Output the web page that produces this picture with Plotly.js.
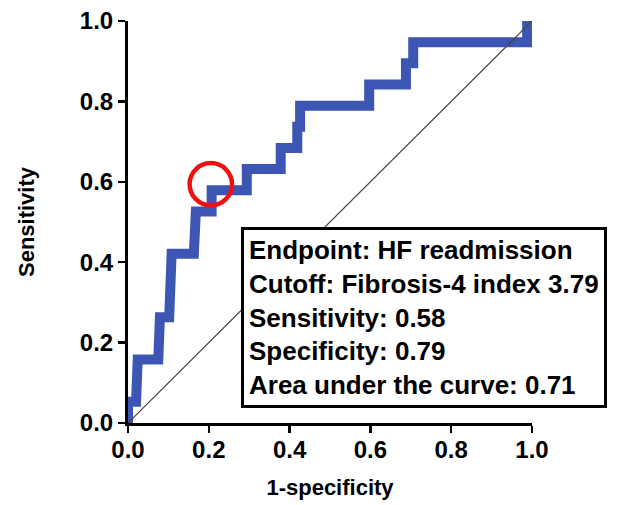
<!DOCTYPE html>
<html>
<head>
<meta charset="utf-8">
<script src="https://cdn.plot.ly/plotly-3.0.1.min.js"></script>
<style>html,body{margin:0;padding:0;background:#fff;}#chart{width:624px;height:505px;}</style>
</head>
<body>
<div id="chart"></div>
<script>
// ROC curve vertices (1-specificity, sensitivity)
const fpr = [0, 0, 0.02, 0.02, 0.024, 0.024, 0.075, 0.075, 0.079, 0.079, 0.102, 0.102, 0.108, 0.108,
  0.163, 0.163, 0.168, 0.168, 0.207, 0.207, 0.294, 0.294, 0.378, 0.378, 0.419, 0.419, 0.426, 0.426,
  0.597, 0.597, 0.688, 0.688, 0.706, 0.706, 0.988, 0.988];
const tpr = [0, 0.053, 0.053, 0.105, 0.105, 0.158, 0.158, 0.211, 0.211, 0.263, 0.263, 0.368, 0.368, 0.421,
  0.421, 0.474, 0.474, 0.526, 0.526, 0.579, 0.579, 0.632, 0.632, 0.684, 0.684, 0.737, 0.737, 0.789,
  0.789, 0.842, 0.842, 0.895, 0.895, 0.947, 0.947, 1.0];
// Reference (chance) line
const refX = [0, 1];
const refY = [0, 1];
// Cutoff point (circled)
const cutoffX = 0.205;
const cutoffY = 0.594;
// Axis ticks
const tickVals = [0, 0.2, 0.4, 0.6, 0.8, 1.0];
const tickText = ["0.0", "0.2", "0.4", "0.6", "0.8", "1.0"];
// Text box lines
const boxLines = [
  "Endpoint: HF readmission",
  "Cutoff: Fibrosis-4 index 3.79",
  "Sensitivity: 0.58",
  "Specificity: 0.79",
  "Area under the curve: 0.71"
];
const xTitle = "1-specificity";
const yTitle = "Sensitivity";

const FONT = "Liberation Sans, Arial, sans-serif";

const traces = [
  {x: fpr, y: tpr, mode: "lines", type: "scatter",
   line: {color: "#3d56b4", width: 10}, hoverinfo: "skip"},
  {x: refX, y: refY, mode: "lines", type: "scatter",
   line: {color: "#444444", width: 1.2}, hoverinfo: "skip"}
];

const axisCommon = {
  range: [0, 1],
  tickvals: tickVals,
  ticktext: tickText,
  showgrid: false,
  zeroline: false,
  showline: true,
  linecolor: "#000",
  linewidth: 3,
  ticks: "outside",
  ticklen: 7,
  tickwidth: 2.5,
  tickcolor: "#000",
  tickfont: {family: FONT, size: 24, color: "#000", weight: "bold"},
  fixedrange: true
};

const r = 0.0525;
const layout = {
  width: 624, height: 505,
  margin: {l: 128, r: 92, t: 21, b: 82},
  paper_bgcolor: "#fff", plot_bgcolor: "#fff",
  showlegend: false,
  xaxis: Object.assign({}, axisCommon, {
    ticklabelstandoff: -4,
    title: {text: xTitle, font: {family: FONT, size: 22, color: "#000", weight: "bold"}, standoff: 18}
  }),
  yaxis: Object.assign({}, axisCommon, {
    title: {text: yTitle, font: {family: FONT, size: 22, color: "#000", weight: "bold"}, standoff: 40}
  }),
  shapes: [
    {type: "circle", xref: "x", yref: "y", layer: "above",
     x0: cutoffX - r, x1: cutoffX + r, y0: cutoffY - r, y1: cutoffY + r,
     line: {color: "#f01010", width: 4.5}}
  ],
  annotations: [
    {xref: "paper", yref: "paper", x: 0.28, y: 0.488, xanchor: "left", yanchor: "top",
     text: boxLines.join("<br>"), align: "left", showarrow: false,
     font: {family: FONT, size: 26, color: "#000", weight: "bold"},
     bgcolor: "#fff", bordercolor: "#000", borderwidth: 3, borderpad: 5}
  ]
};

Plotly.newPlot("chart", traces, layout, {displayModeBar: false, staticPlot: true});
</script>
</body>
</html>
